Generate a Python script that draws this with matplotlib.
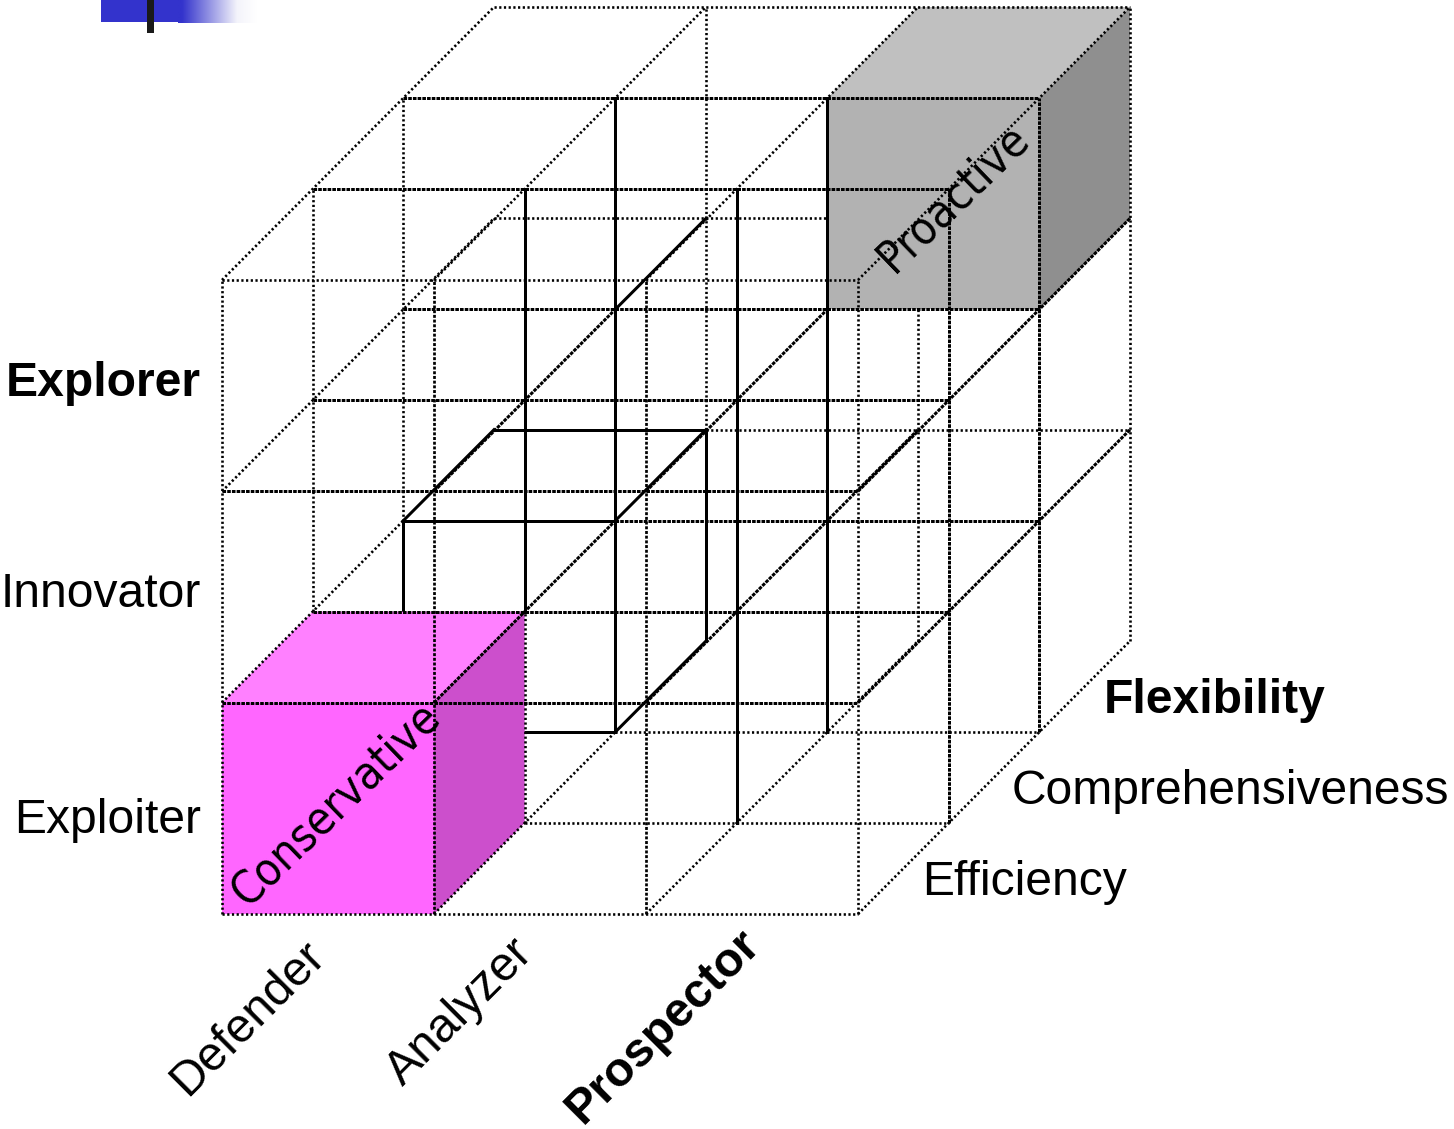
import numpy as np
import matplotlib
matplotlib.use("Agg")
import matplotlib.pyplot as plt
from matplotlib.colors import LinearSegmentedColormap
from matplotlib.patches import Polygon, Rectangle

# labels
rows = ["Exploiter", "Innovator", "Explorer"]
cols = ["Defender", "Analyzer", "Prospector"]
depths = ["Efficiency", "Comprehensiveness", "Flexibility"]
cube_names = ["Conservative", "Proactive"]

# lines along the first axis: j, k, from i, to i, style
across = [
    (3, 0, 0, 3, "dot"), (2, 0, 0, 3, "dense"), (1, 0, 0, 3, "dense"), (0, 0, 0, 3, "dot"),
    (3, 1, 0, 3, "dense"), (2, 1, 0, 3, "dense"), (1, 1, 0, 3, "dense"),
    (3, 2, 0, 3, "dense"), (2, 2, 0, 3, "dense"), (1, 2, 0, 1, "solid"), (1, 2, 1, 3, "dense"),
    (3, 3, 0, 3, "dot"), (1, 3, 0, 1, "solid"), (1, 3, 1, 3, "dot"),
]
across_under = [
    (0, 1, 0, 3, "dot"), (0, 2, 0, 1, "solid"), (0, 2, 1, 3, "dot"), (2, 3, 0, 3, "dot"),
]

# lines along the second axis: i, k, from j, to j, style
upright = [
    (0, 0, 0, 3, "dot"), (1, 0, 0, 3, "mid"), (2, 0, 0, 3, "mid"), (3, 0, 0, 3, "dot"),
    (1, 1, 1, 3, "solid"), (1, 1, 0, 1, "dot"), (2, 1, 0, 3, "solid"), (3, 1, 0, 3, "dense"),
    (1, 2, 0, 3, "solid"), (2, 2, 0, 3, "solid"), (3, 2, 0, 3, "dense"),
    (1, 3, 1, 3, "dot"), (1, 3, 0, 1, "solid"), (3, 3, 0, 3, "dot"),
]
upright_under = [
    (0, 1, 0, 3, "dot"), (0, 2, 1, 3, "dot"), (0, 2, 0, 1, "solid"), (2, 3, 0, 3, "dot"),
]

# lines into the depth: i, j, from k, to k, style
deep = [
    (0, 3, 0, 3, "dot"), (1, 3, 0, 3, "dot"), (2, 3, 0, 3, "dot"), (3, 3, 0, 3, "dot"),
    (0, 2, 0, 3, "dot"), (1, 2, 0, 2, "dense"), (1, 2, 2, 3, "solid"),
    (3, 2, 0, 3, "dense"), (0, 1, 0, 2, "dot"), (0, 1, 2, 3, "solid"),
    (1, 1, 0, 2, "dense"), (1, 1, 2, 3, "solid"), (2, 1, 0, 3, "dense"), (3, 1, 0, 3, "dense"),
    (1, 0, 0, 2, "dot"), (1, 0, 2, 3, "solid"), (2, 0, 0, 3, "dot"), (3, 0, 0, 3, "dot"),
]
deep_under = [(2, 2, 0, 3, "dense")]

x0, y0 = 222, 914
step_x, step_y = 212, 211.33
depth_x, depth_y = 90.67, 91
pt = 72 / 100
widths = {"dot": 2.6, "mid": 2.7, "dense": 3.0, "solid": 3.0}
dashes = {"dot": (0, (0.85, 0.96)), "mid": (0, (1.1, 0.64)), "dense": (0, (1.2, 0.37)), "solid": "-"}


def proj(i, j, k):
    return x0 + step_x * i + depth_x * k, y0 - step_y * j - depth_y * k


def draw(a, b, style, z):
    (xa, ya), (xb, yb) = a, b
    ax.plot([xa, xb], [ya, yb], color="black", lw=widths[style] * pt, ls=dashes[style],
            dash_capstyle="butt", zorder=z)


def cube(i, j, k, front, top, side):
    faces = [
        ([(i, j, k), (i + 1, j, k), (i + 1, j + 1, k), (i, j + 1, k)], front),
        ([(i, j + 1, k), (i + 1, j + 1, k), (i + 1, j + 1, k + 1), (i, j + 1, k + 1)], top),
        ([(i + 1, j, k), (i + 1, j, k + 1), (i + 1, j + 1, k + 1), (i + 1, j + 1, k)], side),
    ]
    for corners, color in faces:
        ax.add_patch(Polygon([proj(*c) for c in corners], closed=True, fc=color, ec="none", zorder=2))


fig = plt.figure(figsize=(14.54, 11.29), dpi=100)
ax = fig.add_axes([0, 0, 1, 1])

# bullet in the corner
ax.add_patch(Rectangle((101, 0), 78, 22, fc="#3333cc", ec="none", zorder=1))
fade = LinearSegmentedColormap.from_list("fade", [(0, "#3333cc"), (0.05, "#3333cc"), (0.75, "#f4f4fb"), (1, "#ffffff")], N=256)
ax.imshow(np.linspace(0, 1, 256).reshape(1, -1), cmap=fade, extent=(178, 257, 23, 0),
          aspect="auto", zorder=1)
ax.add_patch(Rectangle((147, 0), 7, 33, fc="#1a1a1a", ec="none", zorder=2))
ax.set_xlim(0, 1454)
ax.set_ylim(1129, 0)
ax.axis("off")

for j, k, a, b, s in across_under:
    draw(proj(a, j, k), proj(b, j, k), s, 1)
for i, k, a, b, s in upright_under:
    draw(proj(i, a, k), proj(i, b, k), s, 1)
for i, j, a, b, s in deep_under:
    draw(proj(i, j, a), proj(i, j, b), s, 1)

cube(0, 0, 0, "#ff66ff", "#ff80ff", "#cc4fcc")
cube(2, 2, 2, "#b2b2b2", "#c0c0c0", "#8f8f8f")

for j, k, a, b, s in across:
    draw(proj(a, j, k), proj(b, j, k), s, 3)
for i, k, a, b, s in upright:
    draw(proj(i, a, k), proj(i, b, k), s, 3)
for i, j, a, b, s in deep:
    draw(proj(i, j, a), proj(i, j, b), s, 3)

sans = "Liberation Sans"
size = 34.6
for name, y, w in zip(rows, [833, 607, 396], ["normal", "normal", "bold"]):
    ax.text(201, y, name, ha="right", va="baseline", family=sans, fontsize=size, weight=w, zorder=5)
for name, x, y, w in zip(depths, [922, 1012, 1104], [895, 804, 713], ["normal", "normal", "bold"]):
    ax.text(x, y, name, ha="left", va="baseline", family=sans, fontsize=size, weight=w, zorder=5)
for name, x, y, w in zip(cols, [248, 460, 663], [1018, 1012, 1026], ["normal", "normal", "bold"]):
    ax.text(x, y, name, ha="center", va="center", rotation=45, rotation_mode="anchor",
            family=sans, fontsize=size, weight=w, zorder=5)
for name, x, y in zip(cube_names, [336, 954], [804, 198]):
    ax.text(x, y, name, ha="center", va="center", rotation=44, rotation_mode="anchor",
            family="DejaVu Sans", stretch="condensed", fontsize=33, zorder=5)

fig.savefig("out.png", dpi=100)
